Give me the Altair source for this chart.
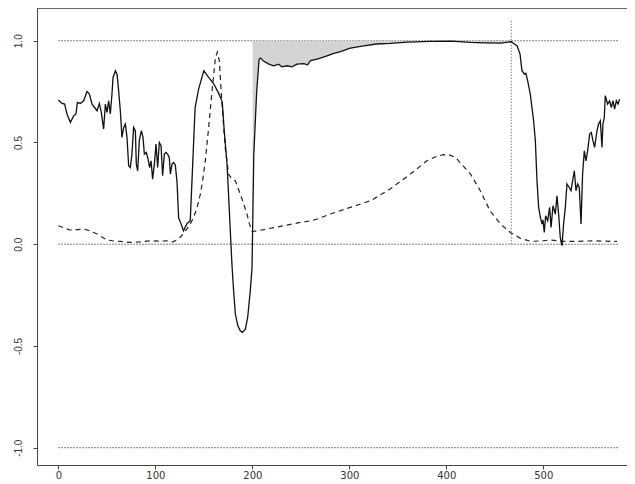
import altair as alt
import pandas as pd

# solid series (traced)
solid_x = [0, 3.8, 6.5, 8.9, 12.4, 15.8, 18.2, 19.6, 22.7, 26.1, 29.6, 32, 34.7, 37.4, 39.9, 42.3, 44.3, 46.7, 48.5, 50.2,
           51.9, 53.6, 55.3, 56.4, 58.8, 60.5, 62.2, 63.9, 65.6, 67.4, 69.1, 70.8, 72.5, 74.2, 75.9, 77.6, 79.4, 80.4, 81.8, 83.5,
           85.6, 87.3, 88.7, 90.7, 92.5, 94.1, 95.6, 97.2, 99, 100.7, 102.4, 104.1, 105.9, 107.5, 109.3, 111, 112.7, 114.4, 115.5, 117.2,
           118.9, 120.6, 122.4, 124, 126.5, 129, 132.5, 136, 138.5, 141, 144.5, 150, 155, 160, 165, 169, 171, 174, 177.3, 179,
           180.7, 182.5, 185, 187.6, 189.7, 192.8, 195.2, 197.9, 199.7, 200.3, 201.5, 204.5, 207, 208.5, 211.5, 217, 222, 227, 230.5, 236,
           241, 246, 253, 257, 260, 267, 277, 284, 291, 301, 315, 328, 342, 360, 383, 405, 425, 440, 456, 467,
           473, 476, 478, 480.5, 482, 484, 486.6, 490, 491.8, 493.5, 495.2, 497, 498.7, 499.7, 501, 502.4, 504.5, 506.5, 508, 510,
           512.4, 514.1, 515.8, 517.5, 519.3, 520.9, 522.7, 524.4, 526.8, 528.6, 530.2, 532, 533.7, 535.4, 537.1, 538.9, 540.5, 542.3, 544, 545.7,
           547.8, 549.5, 551.2, 552.9, 555.4, 557, 558.8, 560.5, 561.5, 562.9, 563.9, 566.3, 568.4, 570.1, 571.9, 573.5, 575.3, 577, 578.7]
solid_y = [0.709, 0.692, 0.689, 0.64, 0.599, 0.631, 0.64, 0.697, 0.692, 0.705, 0.751, 0.738, 0.689, 0.672, 0.656, 0.692, 0.648, 0.566, 0.689, 0.648,
           0.705, 0.64, 0.738, 0.82, 0.853, 0.836, 0.754, 0.656, 0.525, 0.574, 0.591, 0.525, 0.386, 0.377, 0.443, 0.574, 0.558, 0.394, 0.361, 0.509,
           0.558, 0.525, 0.443, 0.451, 0.419, 0.377, 0.41, 0.32, 0.394, 0.492, 0.377, 0.5, 0.484, 0.337, 0.443, 0.451, 0.443, 0.427, 0.345, 0.394,
           0.402, 0.39, 0.304, 0.13, 0.10, 0.066, 0.10, 0.115, 0.39, 0.67, 0.76, 0.853, 0.82, 0.79, 0.745, 0.70, 0.56, 0.39, 0.066, -0.10,
           -0.229, -0.343, -0.40, -0.425, -0.433, -0.417, -0.36, -0.229, -0.114, 0.066, 0.44, 0.75, 0.91, 0.915, 0.90, 0.885, 0.877, 0.885, 0.872, 0.877,
           0.872, 0.885, 0.888, 0.882, 0.902, 0.91, 0.926, 0.938, 0.947, 0.964, 0.975, 0.984, 0.987, 0.993, 0.997, 0.998, 0.992, 0.990, 0.988, 0.995,
           0.975, 0.935, 0.853, 0.836, 0.84, 0.80, 0.738, 0.607, 0.509, 0.312, 0.181, 0.132, 0.099, 0.12, 0.058, 0.14, 0.115, 0.181, 0.083, 0.189,
           0.148, 0.238, 0.148, 0.033, -0.007, 0.099, 0.181, 0.296, 0.279, 0.263, 0.312, 0.361, 0.263, 0.296, 0.279, 0.099, 0.345, 0.459, 0.41, 0.459,
           0.541, 0.549, 0.509, 0.476, 0.558, 0.591, 0.607, 0.476, 0.591, 0.623, 0.73, 0.689, 0.705, 0.672, 0.705, 0.664, 0.705, 0.689, 0.713]

# dashed series (traced)
dash_x = [0, 6, 12, 20, 26, 33, 40, 45, 50, 57, 64, 70, 78, 86, 95, 104, 112, 118, 122, 127,
          131, 135, 139.5, 143, 146.5, 149, 151.5, 155, 158.5, 162, 164, 166, 168.5, 170.5, 172, 175.5, 179, 182.5, 185, 187.5,
          191, 194.5, 197, 200, 205, 215, 232, 249.5, 260, 267, 280, 301, 322, 342, 363, 380, 390, 397, 404, 410,
          414, 425, 435, 445, 456, 466, 476, 487, 500, 507, 521, 535, 552, 569, 576]
dash_y = [0.091, 0.08, 0.07, 0.072, 0.075, 0.065, 0.05, 0.035, 0.021, 0.016, 0.014, 0.01, 0.009, 0.012, 0.017, 0.015, 0.017, 0.012, 0.021, 0.04,
          0.066, 0.09, 0.132, 0.18, 0.247, 0.32, 0.41, 0.574, 0.754, 0.918, 0.945, 0.90, 0.705, 0.58, 0.476, 0.345, 0.32, 0.312, 0.28, 0.247,
          0.2, 0.148, 0.1, 0.062, 0.066, 0.075, 0.091, 0.107, 0.115, 0.124, 0.148, 0.181, 0.214, 0.271, 0.345, 0.41, 0.432, 0.440, 0.438, 0.425,
          0.402, 0.345, 0.263, 0.165, 0.099, 0.058, 0.030, 0.014, 0.017, 0.021, 0.014, 0.014, 0.017, 0.014, 0.014]

h_levels = [1.0, 0.0, -1.0]
h_start, h_end = 0, 577
v_pos = 467
v_top = 1.1
fill_start, fill_end = 200, 467

x_ticks = [0, 100, 200, 300, 400, 500]
y_ticks = [-1.0, -0.5, 0.0, 0.5, 1.0]

W, H = 590, 457
xdom = [-22, 586.3]
ydom = [-1.085, 1.161]

solid = pd.DataFrame({"x": solid_x, "y": solid_y})
dashed = pd.DataFrame({"x": dash_x, "y": dash_y})
fill = solid[(solid.x >= fill_start) & (solid.x <= fill_end)].assign(top=1.0)
hl = pd.DataFrame({"y": h_levels, "x": h_start, "x2": h_end})
vl = pd.DataFrame({"x": [v_pos], "y": [0.0], "y2": [v_top]})

xs = alt.Scale(domain=xdom, nice=False, zero=False)
ys = alt.Scale(domain=ydom, nice=False, zero=False)
xax = alt.Axis(values=x_ticks, title=None, tickSize=4, labelPadding=1, format="d",
               labelFont="DejaVu Sans", labelFontSize=10)
yax = alt.Axis(values=y_ticks, title=None, tickSize=4, labelAngle=-90, labelAlign="center",
               labelBaseline="bottom", labelPadding=10,
               labelFont="Liberation Sans", labelFontSize=10,
               labelExpr="datum.value < 0 ? '-' + format(-datum.value, '.1f') : format(datum.value, '.1f')")

X = alt.X("x:Q", scale=xs, axis=xax)
Y = alt.Y("y:Q", scale=ys, axis=yax)

hrules = alt.Chart(hl).mark_rule(color="#555", strokeDash=[1.5, 1.5], strokeWidth=1).encode(
    x=X, x2="x2:Q", y=Y)
vrule = alt.Chart(vl).mark_rule(color="#777", strokeDash=[1.5, 1.5], strokeWidth=1).encode(
    x=X, y=Y, y2="y2:Q")
area = alt.Chart(fill).mark_area(color="#d3d3d3", opacity=1, interpolate="linear").encode(
    x=X, y=Y, y2="top:Q")
dline = alt.Chart(dashed).mark_line(color="#222", strokeDash=[5, 4], strokeWidth=1.2).encode(
    x=X, y=Y, order="x:Q")
sline = alt.Chart(solid).mark_line(color="#111", strokeWidth=1.3).encode(
    x=X, y=Y, order="x:Q")
frame = alt.Chart(hl).mark_rule(color="#555", strokeWidth=1).encode(
    x=alt.value(0), x2=alt.value(W), y=alt.value(0))

chart = alt.layer(hrules, area, vrule, dline, sline, frame).properties(
    width=W, height=H,
    autosize=alt.AutoSizeParams(type="none"),
    padding={"left": 29, "top": 0, "right": 0, "bottom": 14},
).configure_view(stroke=None).configure_axis(
    grid=False, domainColor="#444", tickColor="#444", labelColor="#333",
)

chart.save("out.html", embed_options={"renderer": "svg", "actions": False})
